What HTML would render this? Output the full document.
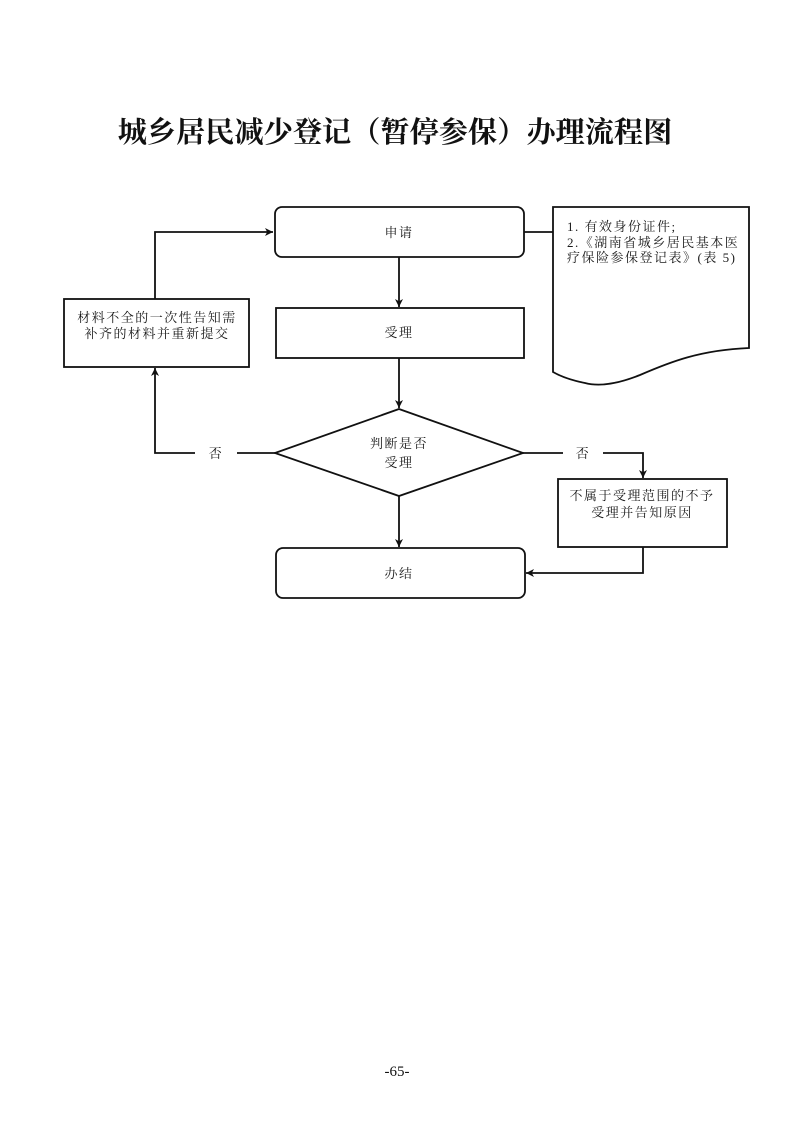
<!DOCTYPE html>
<html><head><meta charset="utf-8">
<style>
html,body{margin:0;padding:0;background:#fff;}
svg{display:block;}
.t{font-family:"Liberation Serif","Noto Serif CJK SC",serif;font-size:13px;letter-spacing:1.5px;fill:#1a1a1a;}
</style></head>
<body>
<svg width="793" height="1122" viewBox="0 0 793 1122" xmlns="http://www.w3.org/2000/svg">
<defs>
<marker id="a" markerWidth="9" markerHeight="9" refX="8" refY="4.5" orient="auto" markerUnits="userSpaceOnUse">
<path d="M0,0.5 L8,4.5 L0,8.5 L2.2,4.5 Z" fill="#111"/>
</marker>
</defs>
<text x="395" y="142" text-anchor="middle" font-family="Liberation Serif, 'Noto Serif CJK SC', serif" font-size="29.2" font-weight="bold" fill="#111">城乡居民减少登记（暂停参保）办理流程图</text>

<g stroke="#111" stroke-width="1.8" fill="none">
<rect x="275" y="207" width="249" height="50" rx="7"/>
<rect x="276" y="308" width="248" height="50"/>
<polygon points="399,409 523,453 399,496 275,453"/>
<rect x="64" y="299" width="185" height="68"/>
<rect x="558" y="479" width="169" height="68"/>
<rect x="276" y="548" width="249" height="50" rx="7"/>
<path d="M553,372 L553,207 L749,207 L749,348 C 700,350 670,362 640,375 C 620,383 600,387 585,383 C 570,380 560,376 553,372 Z"/>
<line x1="524" y1="232" x2="553" y2="232"/>
<line x1="399" y1="257" x2="399" y2="307" marker-end="url(#a)"/>
<line x1="399" y1="358" x2="399" y2="408" marker-end="url(#a)"/>
<line x1="399" y1="496" x2="399" y2="547" marker-end="url(#a)"/>
<polyline points="155,299 155,232 273,232" marker-end="url(#a)"/>
<polyline points="195,453 155,453 155,368" marker-end="url(#a)"/>
<line x1="237" y1="453" x2="275" y2="453"/>
<line x1="523" y1="453" x2="563" y2="453"/>
<polyline points="603,453 643,453 643,478" marker-end="url(#a)"/>
<polyline points="643,547 643,573 526,573" marker-end="url(#a)"/>
</g>

<g class="t">
<text x="399" y="237" text-anchor="middle">申请</text>
<text x="399" y="337" text-anchor="middle">受理</text>
<text x="399" y="448" text-anchor="middle">判断是否</text>
<text x="399" y="467" text-anchor="middle">受理</text>
<text x="157" y="322" text-anchor="middle">材料不全的一次性告知需</text>
<text x="157" y="338" text-anchor="middle">补齐的材料并重新提交</text>
<text x="216" y="458" text-anchor="middle">否</text>
<text x="583" y="458" text-anchor="middle">否</text>
<text x="642" y="500" text-anchor="middle">不属于受理范围的不予</text>
<text x="642" y="517" text-anchor="middle">受理并告知原因</text>
<text x="399" y="578" text-anchor="middle">办结</text>
<text x="567" y="231">1. 有效身份证件;</text>
<text x="567" y="247">2.《湖南省城乡居民基本医</text>
<text x="567" y="262">疗保险参保登记表》(表 5)</text>
</g>

<text x="397" y="1076" text-anchor="middle" font-family="Liberation Serif, serif" font-size="15" fill="#111">-65-</text>
</svg>
</body></html>
